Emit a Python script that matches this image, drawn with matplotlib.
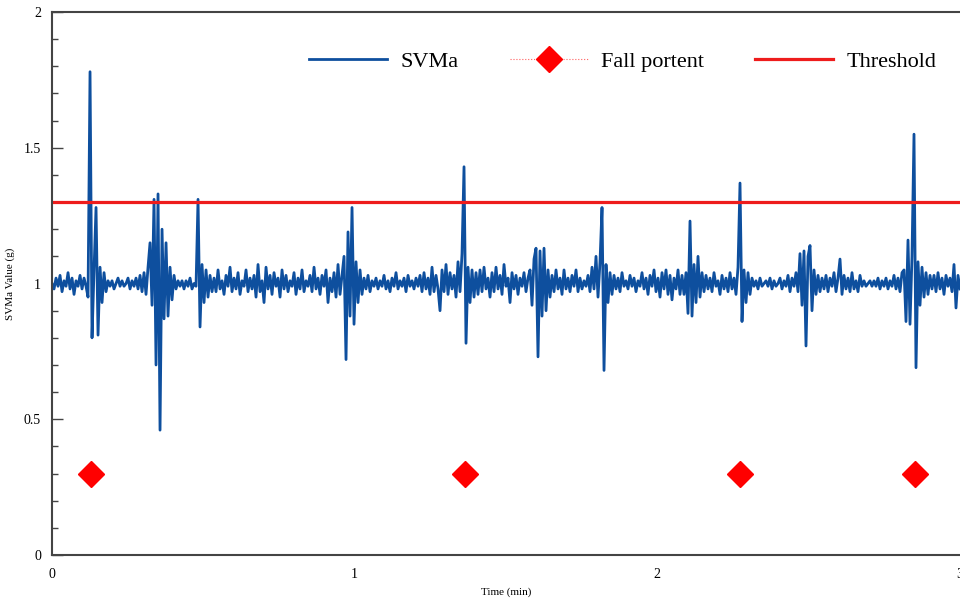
# SVMa signal with fall portent markers and threshold

import numpy as np
from matplotlib import pyplot as plt
from matplotlib.lines import Line2D

plt.rcParams['font.family'] = ['Liberation Serif', 'DejaVu Serif']

# SVMa samples (g)
svma_start = [1.00, 0.98, 1.02, 0.99, 1.03, 0.97, 1.01, 0.99, 1.04, 0.98,
              1.02, 0.96, 1.01, 0.99, 1.03, 0.98, 1.02, 0.99]
svma_fall1 = [0.95, 1.78, 0.80, 1.05, 1.28, 0.81, 1.06, 0.93, 1.04, 0.97]
svma_quiet1 = [1.01, 0.99, 1.01, 0.98, 1.00, 1.02, 0.99, 1.01, 0.99, 1.00,
               1.02, 0.98, 1.01, 0.99, 1.02, 0.98, 1.03, 0.97, 1.04, 0.96]
svma_burst1 = [1.06, 1.15, 0.92, 1.31, 0.70, 1.33, 0.46, 1.20, 0.87, 1.15,
               0.88, 1.06, 0.94, 1.03, 0.98]
svma_quiet2 = [1.01, 0.99, 1.01, 0.98, 1.01, 0.99, 1.02, 0.98, 1.00, 0.99]
svma_spike1 = [1.31, 0.84, 1.07, 0.93, 1.05, 0.95, 1.03, 0.97]
svma_walk1 = [1.02, 0.97, 1.05, 0.98, 1.01, 0.96, 1.03, 0.99, 1.06, 0.97,
              1.02, 0.98, 1.04, 0.96, 1.01, 0.99, 1.05, 0.97, 1.02, 0.98,
              1.03, 0.95, 1.07, 0.97, 1.01, 0.93, 1.06, 0.98, 1.03, 0.96,
              1.04, 0.99, 1.02, 0.95, 1.05, 0.98, 1.03, 0.97, 1.01, 0.99,
              1.04, 0.96, 1.02, 0.98, 1.05, 0.97, 1.01, 0.99, 1.03, 0.97,
              1.06, 0.98, 1.02, 0.96, 1.03, 0.99, 1.05, 0.93, 1.02, 0.97,
              1.04, 0.95, 1.07, 0.96, 1.03]
svma_burst2 = [1.10, 0.72, 1.19, 0.88, 1.28, 0.85, 1.08, 0.93, 1.05, 0.96]
svma_walk2 = [1.02, 0.98, 1.03, 0.97, 1.01, 0.99, 1.02, 0.98, 1.01, 0.99,
              1.03, 0.98, 1.01, 0.97, 1.02, 0.99, 1.04, 0.98, 1.01, 0.99,
              1.02, 0.97, 1.03, 0.99, 1.01, 0.98, 1.02, 0.99, 1.03, 0.97,
              1.04, 0.98, 1.02, 0.96, 1.06, 0.97, 1.03, 0.98, 0.90, 1.05,
              0.97, 1.07, 0.96, 1.04, 0.98]
svma_fall2 = [1.03, 0.95, 1.08, 0.97, 1.11, 1.43, 0.78, 1.06, 0.93, 1.05,
              0.95, 1.04, 0.96, 1.05, 0.97]
svma_walk3 = [1.06, 0.98, 1.02, 0.95, 1.04, 0.97, 1.06, 0.98, 1.03, 0.96,
              1.07, 0.99, 1.02, 0.93, 1.04, 0.98, 1.03, 0.96, 1.02, 0.99,
              1.04, 0.97, 1.02]
svma_burst3 = [1.05, 0.92, 1.09, 1.13, 0.73, 1.12, 0.88, 1.13, 0.90, 1.05,
               0.95, 1.03]
svma_walk4 = [0.97, 1.05, 0.98, 1.02, 0.96, 1.05, 0.98, 1.02, 0.97, 1.03,
              0.99, 1.05, 0.97, 1.02, 0.98, 1.01, 0.99, 1.03, 0.97, 1.06,
              0.98]
svma_spike2 = [1.10, 0.95, 1.08, 1.28, 0.68, 1.07, 0.93, 1.04, 0.96, 1.03]
svma_walk5 = [0.98, 1.02, 0.97, 1.04, 0.99, 1.01, 0.98, 1.03, 0.99, 1.02,
              0.97, 1.01, 0.99, 1.04, 0.98, 1.02, 0.96, 1.03, 0.99, 1.05,
              0.97, 1.02, 0.95, 1.04, 0.98, 1.05, 0.96, 1.03, 0.94, 1.02,
              0.98, 1.05, 0.96, 1.03]
svma_spike3 = [0.96, 1.04, 0.89, 1.23, 0.88, 1.07, 0.93, 1.10, 0.95, 1.04,
               0.97]
svma_walk6 = [1.03, 0.98, 1.02, 0.97, 1.04, 0.99, 1.01, 0.96, 1.03, 0.98,
              1.02, 0.97, 1.04, 0.98, 1.02]
svma_fall3 = [0.96, 1.06, 1.37, 0.86, 1.05, 0.93, 1.04, 0.96, 1.02]
svma_quiet3 = [0.99, 1.01, 0.98, 1.02, 0.99, 1.00, 1.01, 0.99, 1.02, 0.98,
               1.01, 0.99, 1.00, 1.02, 0.98, 1.01, 0.99, 1.03, 0.97, 1.02,
               0.99, 1.04, 0.97]
svma_burst4 = [1.11, 0.92, 1.12, 0.77, 1.10, 1.14, 0.90, 1.05, 0.96, 1.03,
               0.97, 1.02]
svma_walk7 = [0.98, 1.03, 0.97, 1.02, 0.99, 1.04, 0.97, 1.02, 1.09, 0.96,
              1.03, 0.98, 1.02, 0.97, 1.04, 0.98, 1.01, 0.97, 1.03, 0.99,
              1.01, 0.99, 1.00, 1.01, 0.99, 1.01, 0.99, 1.02, 0.98, 1.01,
              0.99, 1.02, 0.98, 1.01, 0.99, 1.03, 0.98, 1.02, 0.97, 1.04]
svma_fall4 = [1.05, 0.86, 1.16, 0.85, 1.10, 1.55, 0.69, 1.08, 0.92, 1.06,
              0.95, 1.04, 0.96, 1.03, 0.98]
svma_end = [1.03, 0.97, 1.04, 0.98, 1.02, 0.96, 1.03, 0.99, 1.02, 0.97,
            1.07, 0.91, 1.03, 0.98]

svma = np.concatenate([svma_start, svma_fall1, svma_quiet1, svma_burst1,
                       svma_quiet2, svma_spike1, svma_walk1, svma_burst2,
                       svma_walk2, svma_fall2, svma_walk3, svma_burst3,
                       svma_walk4, svma_spike2, svma_walk5, svma_spike3,
                       svma_walk6, svma_fall3, svma_quiet3, svma_burst4,
                       svma_walk7, svma_fall4, svma_end])
t_min = np.linspace(0, 3, len(svma))

fall_t = [0.13, 1.365, 2.272, 2.851]
fall_y = [0.3, 0.3, 0.3, 0.3]
threshold = 1.3

fig = plt.figure(figsize=(9.6, 6.01), dpi=100)
ax = fig.add_axes([0.0542, 0.0765, 0.9458, 0.9035])

ax.plot(t_min, svma, color='#0E4F9E', lw=2.0, label='SVMa')
ax.plot(fall_t, fall_y, 'D', color='#FF0000', markersize=13.5, ls='none')
ax.axhline(threshold, color='#EE1C1C', lw=2.3, label='Threshold')

ax.set_xlim(0, 3)
ax.set_ylim(0, 2)
ax.set_xticks([0, 1, 2, 3])
ax.set_yticks([0, 0.5, 1, 1.5, 2])
ax.set_yticklabels(['0', '0.5', '1', '1.5', '2'])
ax.set_yticks(np.arange(0, 2.01, 0.1), minor=True)
ax.tick_params(axis='y', which='major', direction='in', length=8, width=1, labelsize=10, pad=8, color='#444444')
ax.tick_params(axis='y', which='minor', direction='in', length=4, width=1, color='#444444')
ax.tick_params(axis='x', length=0, labelsize=10, pad=9)
for side in ['left', 'top', 'bottom']:
    ax.spines[side].set_color('#444444')
    ax.spines[side].set_linewidth(1.5)
ax.spines['right'].set_visible(False)

ax.set_xlabel('Time (min)', fontsize=8, labelpad=5)
ax.set_ylabel('SVMa Value (g)', fontsize=8, labelpad=6)

handles = [Line2D([], [], color='#0E4F9E', lw=2.0),
           Line2D([], [], color='#FF6060', lw=0.8, ls=':', marker='D',
                  markersize=13.5, markerfacecolor='#FF0000', markeredgecolor='#FF0000'),
           Line2D([], [], color='#EE1C1C', lw=2.3)]
ax.legend(handles, ['SVMa', 'Fall portent', 'Threshold'], loc='center right',
          bbox_to_anchor=(0.9736, 0.908), ncol=3, frameon=False, fontsize=16,
          handlelength=3.5, columnspacing=2.3, handletextpad=0.6,
          borderpad=0, borderaxespad=0)

plt.savefig('out.png', dpi=100)
